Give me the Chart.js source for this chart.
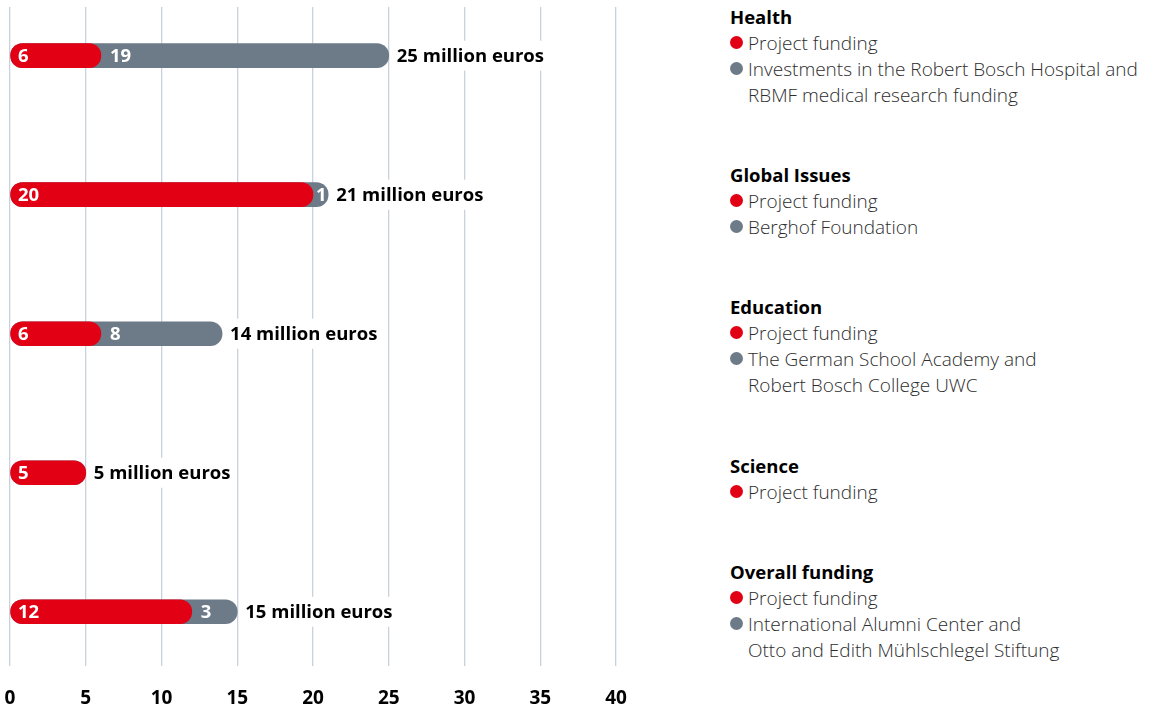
<!DOCTYPE html>
<html>
<head>
<meta charset="utf-8">
<script src="https://cdn.jsdelivr.net/npm/chart.js@4.4.1/dist/chart.umd.min.js"></script>
<style>
  html, body { margin: 0; padding: 0; background: #fff; }
  body { width: 1150px; height: 712px; position: relative; overflow: hidden; font-family: "Open Sans", sans-serif; }
  #wrap { position: absolute; left: 0; top: 0; width: 700px; height: 712px; }
  #legend { position: absolute; left: 730px; top: 0; width: 420px; }
  .grp { position: absolute; left: 0; width: 420px; }
  .hd { font-weight: 700; font-size: 18.5px; color: #000; line-height: 26px; height: 26px; }
  .it { font-weight: 300; font-size: 19px; color: #2d2d2d; line-height: 26px; position: relative; padding-left: 18px; white-space: nowrap; }
  .dot { position: absolute; left: 0; top: 6px; width: 13px; height: 13px; border-radius: 50%; }
</style>
</head>
<body>
<div id="wrap"><canvas id="c" width="700" height="712"></canvas></div>
<div id="legend"></div>
<script>
// ---- data ----
const categories = ["Health", "Global Issues", "Education", "Science", "Overall funding"];
const projectFunding = [6, 20, 6, 5, 12];
const otherFunding = [19, 1, 8, 0, 3];
const otherLabels = [
  "Investments in the Robert Bosch Hospital and<br>RBMF medical research funding",
  "Berghof Foundation",
  "The German School Academy and<br>Robert Bosch College UWC",
  null,
  "International Alumni Center and<br>Otto and Edith Mühlschlegel Stiftung"
];
const projectLabel = "Project funding";
const xTicks = [0, 5, 10, 15, 20, 25, 30, 35, 40];
const unitText = " million euros";

const RED = "#e20015";
const GREY = "#6d7b89";

// ---- legend (HTML) ----
const legendTops = [4, 162, 294, 453, 559];
const lg = document.getElementById("legend");
categories.forEach((c, i) => {
  const g = document.createElement("div");
  g.className = "grp";
  g.style.top = legendTops[i] + "px";
  let h = '<div class="hd">' + c + '</div>';
  h += '<div class="it"><span class="dot" style="background:' + RED + '"></span>' + projectLabel + '</div>';
  if (otherLabels[i]) h += '<div class="it"><span class="dot" style="background:' + GREY + '"></span>' + otherLabels[i] + '</div>';
  g.innerHTML = h;
  lg.appendChild(g);
});

// ---- chart ----
const totals = projectFunding.map((v, i) => v + otherFunding[i]);

const labelPlugin = {
  id: "labels",
  afterDatasetsDraw(chart) {
    const ctx = chart.ctx;
    const xs = chart.scales.x;
    const redMeta = chart.getDatasetMeta(0);
    ctx.save();
    ctx.textBaseline = "middle";
    ctx.textAlign = "left";
    ctx.font = "700 18.5px 'Open Sans', sans-serif";
    redMeta.data.forEach((bar, i) => {
      const y = bar.y;
      ctx.fillStyle = "#fff";
      ctx.fillText(String(projectFunding[i]), xs.getPixelForValue(0) + 8, y + 1);
      if (otherFunding[i] > 0) {
        const off = otherFunding[i] < 2 ? 3 : 9;
        ctx.fillText(String(otherFunding[i]), xs.getPixelForValue(projectFunding[i]) + off, y + 1);
      }
      const t = totals[i] + unitText;
      const tx = xs.getPixelForValue(totals[i]) + 8;
      const w = ctx.measureText(t).width;
      ctx.fillStyle = "#fff";
      ctx.fillRect(tx - 2, y - 15, w + 4, 30);
      ctx.fillStyle = "#000";
      ctx.fillText(t, tx, y + 1);
    });
    ctx.restore();
  }
};

new Chart(document.getElementById("c"), {
  type: "bar",
  data: {
    datasets: [
      {
        label: projectLabel,
        data: projectFunding.map((v, i) => ({ x: v, y: i })),
        backgroundColor: RED,
        borderRadius: 12,
        borderSkipped: false,
        barThickness: 24,
        order: 0
      },
      {
        label: "Other",
        data: totals.map((v, i) => ({ x: v, y: i })),
        backgroundColor: GREY,
        borderRadius: 12,
        borderSkipped: false,
        barThickness: 24,
        order: 1
      }
    ]
  },
  options: {
    indexAxis: "y",
    responsive: false,
    animation: false,
    layout: { padding: { top: 7, left: 10, right: 84, bottom: 2 } },
    datasets: { bar: { grouped: false } },
    plugins: { legend: { display: false }, tooltip: { enabled: false } },
    scales: {
      x: {
        type: "linear",
        min: 0, max: 40,
        afterBuildTicks(s) { s.ticks = xTicks.map(v => ({ value: v })); },
        afterFit(s) { s.height = 44; s.paddingLeft = 0; s.paddingRight = 0; },
        grid: { color: "#c9d1db", lineWidth: 1.3, drawTicks: false },
        border: { display: false },
        ticks: {
          padding: 21,
          maxRotation: 0,
          color: "#000",
          font: { family: "'Open Sans', sans-serif", weight: "700", size: 19 }
        }
      },
      y: {
        type: "linear",
        reverse: true,
        offset: false,
        grid: { offset: false },
        min: -0.35, max: 4.39,
        display: false
      }
    }
  },
  plugins: [labelPlugin]
});
</script>
</body>
</html>
